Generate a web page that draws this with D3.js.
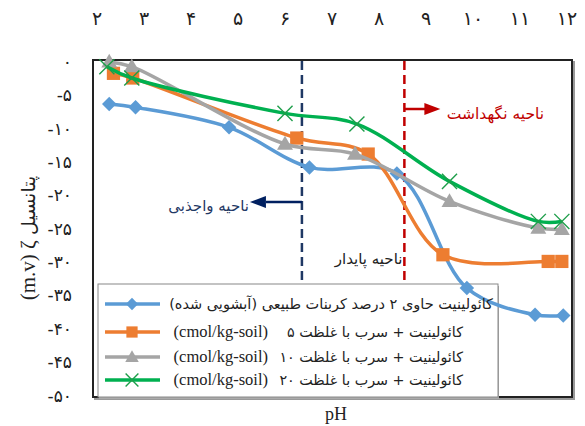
<!DOCTYPE html>
<html><head><meta charset="utf-8">
<script src="https://cdn.jsdelivr.net/npm/d3@7"></script>
<style>body{margin:0;background:#fff}</style>
</head><body><svg id="c" width="585" height="426"></svg>
<script>
// ---- data ----
const seriesNames = [
  "کائولینیت حاوی ۲ درصد کربنات طبیعی (آبشویی شده)",
  "کائولینیت + سرب با غلظت ۵",
  "کائولینیت + سرب با غلظت ۱۰",
  "کائولینیت + سرب با غلظت ۲۰"
];
const unitLabel = "(cmol/kg-soil)";
const bluePH    = [2.26, 2.82, 4.81, 6.52, 8.38, 9.87, 11.32, 11.92];
const blueZeta  = [-6.3, -6.8, -9.8, -15.8, -16.7, -33.9, -37.9, -38.0];
const orangePH   = [2.35, 2.76, 6.25, 7.77, 9.36, 11.60, 11.89];
const orangeZeta = [-1.7, -2.4, -11.4, -13.8, -28.9, -29.9, -29.9];
const grayPH   = [2.26, 2.74, 6.00, 7.49, 9.50, 11.39, 11.89];
const grayZeta = [0.0, -0.7, -12.3, -13.8, -20.9, -24.9, -25.1];
const greenPH   = [2.21, 2.74, 6.00, 7.53, 9.50, 11.39, 11.89];
const greenZeta = [-0.7, -2.4, -7.7, -9.3, -17.9, -23.9, -23.9];
const xTickValues = [2,3,4,5,6,7,8,9,10,11,12];
const xTickLabels = ["۲","۳","۴","۵","۶","۷","۸","۹","۱۰","۱۱","۱۲"];
const yTickValues = [0,-5,-10,-15,-20,-25,-30,-35,-40,-45,-50];
const yTickLabels = ["۰","-۵","-۱۰","-۱۵","-۲۰","-۲۵","-۳۰","-۳۵","-۴۰","-۴۵","-۵۰"];
const zoneBounds = [6.36, 8.54];
const zoneLabels = ["ناحیه واجذبی", "ناحیه پایدار", "ناحیه نگهداشت"];
const yTitleUnit = "(m.v) ζ";
const yTitleWord = "پتانسیل";
const xTitle = "pH";

// ---- layout ----
const L = 93, R = 572, T = 60, B = 397;
const svg = d3.select("#c");
const x = d3.scaleLinear().domain([2, 12]).range([97, 567]);
const y = d3.scaleLinear().domain([0, -50]).range([62, 395.5]);

const colors = ["#5B9BD5", "#ED7D31", "#A5A5A5", "#00B050"];
const fontP = "'DejaVu Sans', 'Noto Sans', sans-serif";
const fontS = "'Liberation Serif', 'DejaVu Serif', serif";

// top axis (pH) labels
svg.append("g").selectAll("text").data(xTickValues).join("text")
  .attr("x", d => x(d)).attr("y", 25)
  .attr("text-anchor", "middle").attr("font-family", fontP).attr("font-size", 19)
  .attr("fill", "#222").text((d, i) => xTickLabels[i]);

// left axis labels
svg.append("g").selectAll("text").data(yTickValues).join("text")
  .attr("x", 72).attr("y", d => y(d) + 6)
  .attr("text-anchor", "end").attr("font-family", fontP).attr("font-size", 17)
  .attr("fill", "#222").text((d, i) => yTickLabels[i]);

// titles
const yt = svg.append("text").attr("transform", "translate(35,238) rotate(-90)")
  .attr("text-anchor", "middle").attr("font-family", fontS).attr("font-size", 21).attr("fill", "#222");
yt.append("tspan").text(yTitleUnit + " ");
yt.append("tspan").attr("font-family", fontP).attr("font-size", 19).text(yTitleWord);
svg.append("text").attr("x", 336).attr("y", 420).attr("text-anchor", "middle")
  .attr("font-family", fontS).attr("font-size", 18).attr("fill", "#222").text(xTitle);

// frame shadow + frame
svg.append("rect").attr("x", L + 2).attr("y", T + 2).attr("width", R - L).attr("height", B - T)
  .attr("fill", "none").attr("stroke", "#999").attr("stroke-width", 2);
svg.append("rect").attr("x", L).attr("y", T).attr("width", R - L).attr("height", B - T)
  .attr("fill", "#fff").attr("stroke", "#222").attr("stroke-width", 2);

// zone dashed lines
const zoneColors = ["#1F3864", "#C00000"];
svg.append("g").selectAll("line").data(zoneBounds).join("line")
  .attr("x1", d => x(d)).attr("x2", d => x(d)).attr("y1", T + 1).attr("y2", B - 1)
  .attr("stroke", (d, i) => zoneColors[i]).attr("stroke-width", 2.5)
  .attr("stroke-dasharray", "9,5");

// zone arrows + labels
const ax1 = x(zoneBounds[0]), ax2 = x(zoneBounds[1]);
svg.append("line").attr("x1", ax1).attr("x2", ax1 - 36).attr("y1", 202).attr("y2", 202)
  .attr("stroke", "#002060").attr("stroke-width", 2.5);
svg.append("path").attr("d", `M${ax1 - 52},202 L${ax1 - 36},196 L${ax1 - 36},208 Z`).attr("fill", "#002060");
svg.append("text").attr("x", ax1 - 53).attr("y", 211).attr("text-anchor", "start").attr("direction", "rtl")
  .attr("font-family", fontP).attr("font-size", 15).attr("fill", "#1F3864").text(zoneLabels[0]);
svg.append("text").attr("x", ax2 - 2).attr("y", 264).attr("text-anchor", "start").attr("direction", "rtl")
  .attr("font-family", fontP).attr("font-size", 15).attr("fill", "#222").text(zoneLabels[1]);
svg.append("line").attr("x1", ax2).attr("x2", ax2 + 22).attr("y1", 109).attr("y2", 109)
  .attr("stroke", "#C00000").attr("stroke-width", 2.5);
svg.append("path").attr("d", `M${ax2 + 36},109 L${ax2 + 20},103 L${ax2 + 20},115 Z`).attr("fill", "#C00000");
svg.append("text").attr("x", 544).attr("y", 119).attr("text-anchor", "start").attr("direction", "rtl")
  .attr("font-family", fontP).attr("font-size", 15.5).attr("fill", "#C00000").text(zoneLabels[2]);

// legend box (behind series)
const lg = {x: 98, y: 284, w: 400, h: 113};
svg.append("rect").attr("x", lg.x + 1).attr("y", lg.y + 2).attr("width", lg.w).attr("height", lg.h)
  .attr("fill", "#aaa");
svg.append("rect").attr("x", lg.x).attr("y", lg.y).attr("width", lg.w).attr("height", lg.h)
  .attr("fill", "#fff").attr("stroke", "#888").attr("stroke-width", 1);

// markers
function marker(sel, k, scale) {
  const s = scale || 1;
  if (k === 0) sel.append("path").attr("d", d3.symbol(d3.symbolSquare, 105 * s * s)())
    .attr("transform", "rotate(45)").attr("fill", colors[0]);
  else if (k === 1) sel.append("path").attr("d", d3.symbol(d3.symbolSquare, 175 * s * s)()).attr("fill", colors[1]);
  else if (k === 2) sel.append("path").attr("d", d3.symbol(d3.symbolTriangle, 110 * s * s)())
    .attr("transform", "translate(0,1)").attr("fill", colors[2]);
  else sel.append("path").attr("d", d3.symbol(d3.symbolTimes, 150 * s * s)())
    .attr("fill", "none").attr("stroke", "#1E9E4A").attr("stroke-width", 1.4);
}

const allSeries = [
  d3.zip(bluePH, blueZeta), d3.zip(orangePH, orangeZeta),
  d3.zip(grayPH, grayZeta), d3.zip(greenPH, greenZeta)
];
const line = d3.line().x(d => x(d[0])).y(d => y(d[1])).curve(d3.curveCatmullRom.alpha(0.5));
allSeries.forEach((data, k) => {
  const g = svg.append("g");
  g.append("path").attr("d", line(data)).attr("fill", "none")
    .attr("stroke", colors[k]).attr("stroke-width", 3.5).attr("stroke-linejoin", "round");
  g.selectAll("g").data(data).join("g")
    .attr("transform", d => `translate(${x(d[0])},${y(d[1])})`)
    .each(function () { marker(d3.select(this), k); });
});

// legend entries
const rowY = [304, 332, 357, 380];
seriesNames.forEach((name, k) => {
  const g = svg.append("g").attr("transform", `translate(0,${rowY[k]})`);
  g.append("line").attr("x1", 105).attr("x2", 160).attr("y1", 0).attr("y2", 0)
    .attr("stroke", colors[k]).attr("stroke-width", 3.5);
  const m = g.append("g").attr("transform", "translate(132,0)");
  marker(m, k, 0.85);
  if (k === 0) {
    g.append("text").attr("x", 493).attr("y", 5).attr("text-anchor", "start").attr("direction", "rtl")
      .attr("font-family", fontP).attr("font-size", 14.5).attr("fill", "#222").text(name);
  } else {
    g.append("text").attr("x", 463).attr("y", 5).attr("text-anchor", "start").attr("direction", "rtl")
      .attr("font-family", fontP).attr("font-size", 14.3).attr("fill", "#222").text(name);
    g.append("text").attr("x", 268).attr("y", 5).attr("text-anchor", "end")
      .attr("font-family", fontS).attr("font-size", 16.5).attr("fill", "#222").text(unitLabel);
  }
});
</script></body></html>
